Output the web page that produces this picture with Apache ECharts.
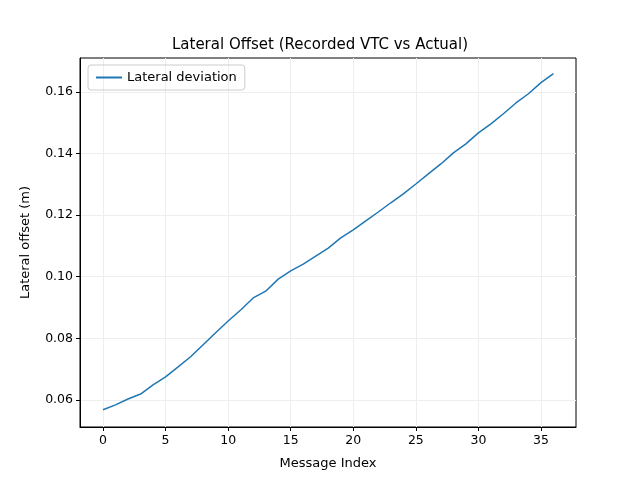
<!DOCTYPE html><html><head><meta charset="utf-8"><script src="https://cdn.jsdelivr.net/npm/echarts@6/dist/echarts.min.js"></script></head><body style="margin:0"><div id="c" style="width:640px;height:480px"></div><script>
const xTicks=[0,5,10,15,20,25,30,35];
const yTicks=[0.06,0.08,0.10,0.12,0.14,0.16];
const offsets=[0.0568,0.0584,0.0603,0.0619,0.0649,0.0675,0.0707,0.0740,0.0779,0.0818,0.0856,0.0892,0.0931,0.0953,0.0992,0.1019,0.1041,0.1067,0.1093,0.1126,0.1152,0.1181,0.1210,0.1240,0.1269,0.1301,0.1334,0.1366,0.1402,0.1431,0.1467,0.1496,0.1529,0.1564,0.1594,0.1630,0.1659];
const data=offsets.map((v,i)=>[i,v]);
const f='DejaVu Sans';
const ch=echarts.init(document.getElementById('c'));
ch.setOption({animation:false,
title:{text:'Lateral Offset (Recorded VTC vs Actual)',left:'center',top:33,textStyle:{fontFamily:f,fontSize:15,fontWeight:'normal',color:'#000'}},
legend:{left:88,top:65,itemWidth:26,itemHeight:2,icon:'rect',borderColor:'#ccc',borderWidth:1,borderRadius:3,padding:[6,8],textStyle:{fontFamily:f,fontSize:13,color:'#000'},data:['Lateral deviation']},
grid:{left:80,right:64,top:58,bottom:53,show:true,borderColor:'#000',borderWidth:1},
xAxis:{type:'value',min:-1.84,max:37.8,name:'Message Index',nameLocation:'middle',nameGap:30,nameTextStyle:{fontFamily:f,fontSize:13,color:'#000'},
axisLine:{onZero:false,lineStyle:{color:'#000'}},axisTick:{customValues:xTicks,length:4,lineStyle:{color:'#000'}},
axisLabel:{customValues:xTicks,fontFamily:f,fontSize:12.5,color:'#000',margin:7,formatter:v=>String(v)},
splitLine:{show:true,lineStyle:{color:'#eee'}}},
yAxis:{type:'value',min:0.0512,max:0.171,name:'Lateral offset (m)',nameLocation:'middle',nameGap:48,nameTextStyle:{fontFamily:f,fontSize:13,color:'#000'},
axisLine:{show:true,onZero:false,lineStyle:{color:'#000'}},axisTick:{show:true,customValues:yTicks,length:4,lineStyle:{color:'#000'}},
axisLabel:{customValues:yTicks,fontFamily:f,fontSize:12.5,color:'#000',margin:7,formatter:v=>v.toFixed(2)},
splitLine:{show:true,lineStyle:{color:'#eee'}}},
series:[{name:'Lateral deviation',type:'line',data:data,showSymbol:false,lineStyle:{color:'#1f77b4',width:1.5},itemStyle:{color:'#1f77b4'}}]});
</script></body></html>
